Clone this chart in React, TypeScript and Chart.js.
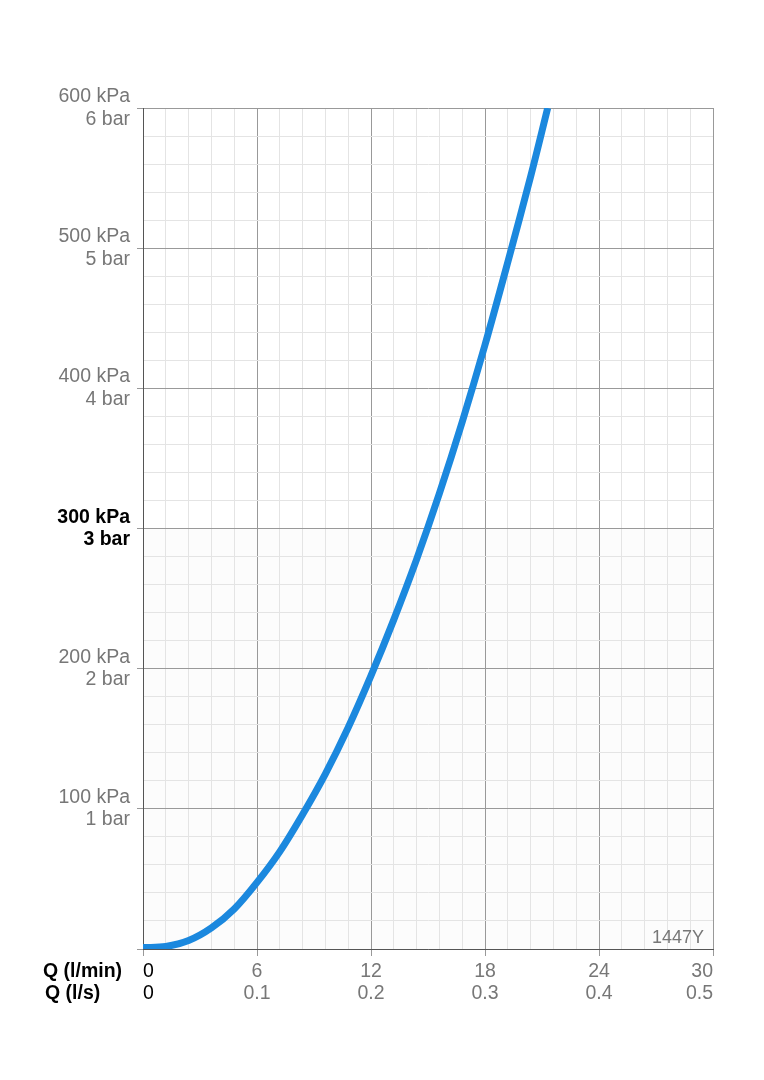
import { useEffect, useRef } from 'react';
import { Chart, registerables } from 'chart.js';

Chart.register(...registerables);

// ---- data ----
const flowLmin = [0, 1.2, 2.4, 3.6, 4.8, 6, 7.2, 8.4, 9.6, 10.8, 12, 13.2, 14.4, 15.6, 16.8, 18, 19.2, 20.4, 21.3];
const pressureKpa = [1, 1.8, 6, 15, 28.5, 47.5, 69.5, 96, 125, 158, 195, 235, 278, 325, 376, 431, 490, 551, 600];

const xTickLmin = ['0', '6', '12', '18', '24', '30'];
const xTickLs = ['0', '0.1', '0.2', '0.3', '0.4', '0.5'];
const yTickKpa = ['', '100 kPa', '200 kPa', '300 kPa', '400 kPa', '500 kPa', '600 kPa'];
const yTickBar = ['', '1 bar', '2 bar', '3 bar', '4 bar', '5 bar', '6 bar'];
const xAxisTitles = ['Q (l/min)', 'Q (l/s)'];
const watermark = '1447Y';
const highlightKpa = 300;

const FONT = '"Liberation Sans", Arial, Helvetica, sans-serif';
const GRAY = '#777777';
const MAJOR = '#999999';
const MINOR = '#e4e4e4';
const AXIS = '#555555';
const BLUE = '#1b88de';

const isMult = (v: number, m: number) => Math.abs(v / m - Math.round(v / m)) < 1e-6;

const bgPlugin = {
  id: 'bgShade',
  beforeDraw(chart: any) {
    const { ctx, chartArea } = chart;
    const y = chart.scales.y.getPixelForValue(highlightKpa);
    ctx.save();
    ctx.fillStyle = '#fcfcfc';
    ctx.fillRect(chartArea.left, y, chartArea.right - chartArea.left, chartArea.bottom - y);
    ctx.restore();
  },
};

const textPlugin = {
  id: 'extraText',
  afterDraw(chart: any) {
    const { ctx, chartArea } = chart;
    ctx.save();
    ctx.fillStyle = '#000';
    ctx.font = `bold 19.5px ${FONT}`;
    ctx.textAlign = 'left';
    ctx.textBaseline = 'alphabetic';
    ctx.fillText(xAxisTitles[0], 43, chartArea.bottom + 28);
    ctx.fillText(xAxisTitles[1], 45, chartArea.bottom + 50);
    ctx.fillStyle = GRAY;
    ctx.font = `18px ${FONT}`;
    ctx.textAlign = 'right';
    ctx.fillText(watermark, chartArea.right - 9, chartArea.bottom - 6);
    ctx.restore();
  },
};

export default function App() {
  const ref = useRef<HTMLCanvasElement>(null);
  useEffect(() => {
    if (!ref.current) return;
    const chart = new Chart(ref.current, {
      type: 'line',
      data: {
        datasets: [
          {
            data: flowLmin.map((x, i) => ({ x, y: pressureKpa[i] })),
            borderColor: BLUE,
            borderWidth: 7,
            pointRadius: 0,
            tension: 0.35,
            fill: false,
          },
        ],
      },
      options: {
        animation: false,
        responsive: false,
        devicePixelRatio: 1,
        layout: { padding: { left: 0, top: 108, right: 51, bottom: 0 } },
        plugins: { legend: { display: false }, tooltip: { enabled: false } },
        scales: {
          x: {
            type: 'linear',
            min: 0,
            max: 30,
            afterFit: (s: any) => { s.height = 131; },
            grid: {
              color: (c: any) => (isMult(c.tick.value, 6) ? MAJOR : MINOR),
              tickColor: (c: any) => (isMult(c.tick.value, 6) ? MAJOR : 'rgba(0,0,0,0)'),
              lineWidth: 1,
              tickLength: 7,
              drawTicks: true,
            },
            border: { color: AXIS, width: 1 },
            ticks: {
              stepSize: 1.2,
              autoSkip: false,
              maxRotation: 0,
              align: 'inner',
              padding: 4,
              color: (c: any) => (c.tick && c.tick.value === 0 ? '#000' : GRAY),
              font: { family: FONT, size: 19.5, lineHeight: 1.15 },
              callback: (v: any) => {
                const n = Number(v);
                if (!isMult(n, 6)) return '';
                const i = Math.round(n / 6);
                return [xTickLmin[i], xTickLs[i]];
              },
            },
          },
          y: {
            type: 'linear',
            min: 0,
            max: 600,
            afterFit: (s: any) => { s.width = 143; },
            grid: {
              color: (c: any) => (isMult(c.tick.value, 100) ? MAJOR : MINOR),
              tickColor: (c: any) => (isMult(c.tick.value, 100) ? MAJOR : 'rgba(0,0,0,0)'),
              lineWidth: 1,
              tickLength: 6,
              drawTicks: true,
            },
            border: { color: AXIS, width: 1 },
            ticks: {
              stepSize: 20,
              autoSkip: false,
              padding: 7,
              color: (c: any) => (c.tick && c.tick.value === highlightKpa ? '#000' : GRAY),
              font: (c: any) => ({
                family: FONT,
                size: 19.5,
                lineHeight: 1.15,
                weight: c.tick && c.tick.value === highlightKpa ? 'bold' : 'normal',
              }),
              callback: (v: any) => {
                const n = Number(v);
                if (!isMult(n, 100)) return '';
                const i = Math.round(n / 100);
                if (i === 0) return '';
                return [yTickKpa[i], yTickBar[i]];
              },
            },
          },
        },
      },
      plugins: [bgPlugin, textPlugin],
    } as any);
    return () => chart.destroy();
  }, []);
  return (
    <div style={{ position: 'fixed', left: 0, top: 0, width: 764, height: 1080, background: '#fff' }}>
      <canvas ref={ref} width={764} height={1080} style={{ display: 'block' }} />
    </div>
  );
}
